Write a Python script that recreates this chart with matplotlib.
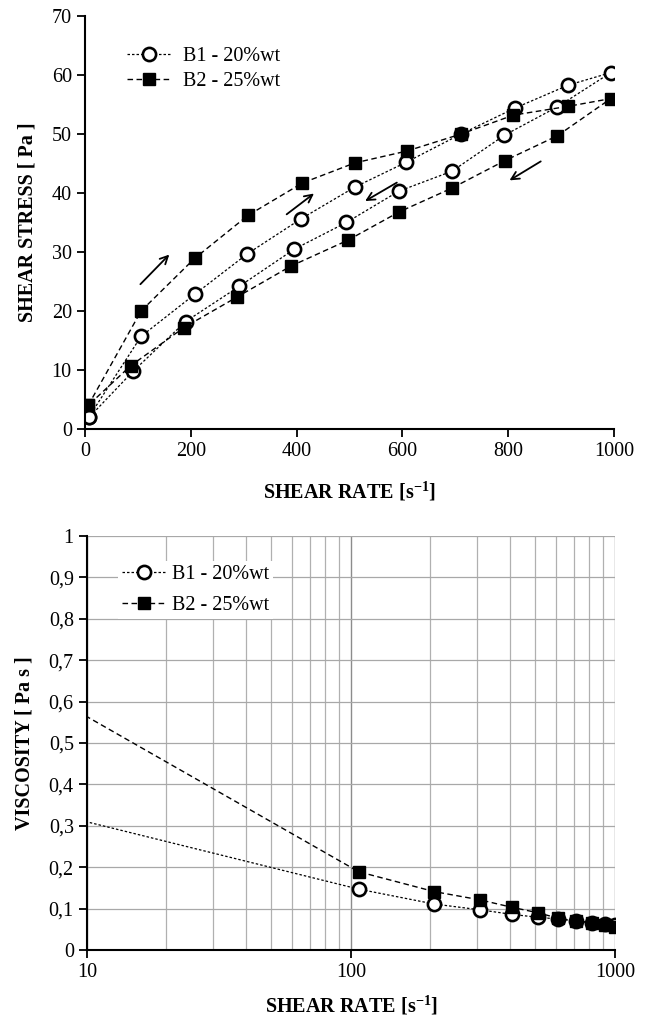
import numpy as np
import matplotlib
matplotlib.use("Agg")
import matplotlib.pyplot as plt
from matplotlib.ticker import FixedLocator, FuncFormatter, NullFormatter

plt.rcParams["font.family"] = ["Liberation Serif", "DejaVu Serif"]
plt.rcParams["mathtext.fontset"] = "custom"
plt.rcParams["mathtext.rm"] = "Liberation Serif"
plt.rcParams["mathtext.bf"] = "Liberation Serif:bold"

# Flow curves (shear rate up then down)
rate_b1 = [7, 106, 207, 307, 408, 510, 607, 711, 813, 914, 994,
           893, 793, 694, 593, 494, 396, 292, 190, 91, 8]
stress_b1 = [2.0, 15.7, 22.8, 29.7, 35.6, 41.0, 45.2, 50.0, 54.4, 58.3, 60.4,
             54.6, 49.8, 43.7, 40.3, 35.0, 30.5, 24.2, 18.2, 9.8, 2.0]
rate_b2 = [6, 106, 207, 308, 411, 510, 608, 711, 810, 914, 994,
           893, 794, 693, 594, 497, 389, 288, 187, 86, 6]
stress_b2 = [4.0, 20.0, 28.9, 36.2, 41.7, 45.1, 47.1, 50.0, 53.2, 54.7, 56.0,
             49.7, 45.5, 40.8, 36.8, 32.0, 27.6, 22.4, 17.2, 10.7, 4.0]

# Viscosity curves
visc_rate = [7, 107, 207, 309, 408, 511, 607, 711, 816, 916, 1000]
visc_b1 = [0.334, 0.147, 0.111, 0.097, 0.086, 0.079, 0.075, 0.070, 0.066, 0.062, 0.060]
visc_b2 = [0.62, 0.189, 0.141, 0.121, 0.103, 0.090, 0.077, 0.070, 0.066, 0.060, 0.056]

labels = ["B1 - 20%wt", "B2 - 25%wt"]

fig = plt.figure(figsize=(6.5, 10.19), dpi=100)
ax1 = fig.add_axes([0.1308, 0.579, 0.8138, 0.4053])
ax2 = fig.add_axes([0.1338, 0.0677, 0.8123, 0.4063])

fs = 14.5
st1 = dict(color="black", lw=0.9, ls=(0, (2, 1.6)), marker="o", ms=9.5,
           mfc="white", mec="black", mew=1.9)
st2 = dict(color="black", lw=1.0, ls=(0, (4, 2.5)), marker="s", ms=8.5,
           mfc="black", mec="black")

# ---- top: shear stress ----
ax1.plot(rate_b1, stress_b1, label=labels[0], **st1)
ax1.plot(rate_b2, stress_b2, label=labels[1], **st2)
ax1.set_xlim(0, 1000)
ax1.set_ylim(0, 70)
ax1.set_xticks(range(0, 1001, 200))
ax1.set_yticks(range(0, 71, 10))
for s in ["top", "right"]:
    ax1.spines[s].set_visible(False)
for s in ["left", "bottom"]:
    ax1.spines[s].set_linewidth(1.5)
ax1.tick_params(direction="out", length=6, width=1.3, labelsize=fs)
ax1.set_xlabel(r"SHEAR RATE [s$^{\mathbf{-1}}$]", fontsize=fs, fontweight="bold", labelpad=13)
ax1.set_ylabel("SHEAR STRESS [ Pa ]", fontsize=fs, fontweight="bold", labelpad=10)
ax1.legend(loc="upper left", bbox_to_anchor=(0.045, 0.97), frameon=False,
           fontsize=fs, handlelength=2.2, handletextpad=0.6, labelspacing=0.3)

arrows = [((101, 24.2), (163, 29.9)), ((377, 36.1), (437, 40.2)),
          ((594, 42.0), (525, 38.4)), ((866, 45.6), (798, 41.9))]
for (x0, y0), (x1, y1) in arrows:
    ax1.annotate("", xy=(x1, y1), xytext=(x0, y0),
                 arrowprops=dict(arrowstyle="->", color="black", lw=1.3,
                                 mutation_scale=14))

# ---- bottom: viscosity ----
ax2.set_xscale("log")
ax2.plot(visc_rate, visc_b1, label=labels[0], **st1)
ax2.plot(visc_rate, visc_b2, label=labels[1], **st2)
ax2.set_xlim(10, 1000)
ax2.set_ylim(0, 1)
ax2.set_yticks(np.arange(0, 1.01, 0.1))
ax2.yaxis.set_major_formatter(FuncFormatter(
    lambda v, p: "0" if abs(v) < 1e-9 else ("1" if abs(v - 1) < 1e-9 else f"{v:.1f}".replace(".", ","))))
ax2.xaxis.set_major_locator(FixedLocator([10, 100, 1000]))
ax2.xaxis.set_major_formatter(FuncFormatter(lambda v, p: f"{int(v)}"))
ax2.xaxis.set_minor_formatter(NullFormatter())
ax2.grid(True, which="major", color="#8c8c8c", lw=1.0)
ax2.grid(True, which="minor", axis="x", color="#b0b0b0", lw=0.9)
ax2.grid(True, which="major", axis="y", color="#a8a8a8", lw=0.9)
ax2.tick_params(axis="x", which="minor", length=0)
for s in ["top", "right"]:
    ax2.spines[s].set_visible(False)
for s in ["left", "bottom"]:
    ax2.spines[s].set_linewidth(1.5)
ax2.tick_params(which="major", direction="out", length=6, width=1.3, labelsize=fs)
ax2.set_axisbelow(True)
ax2.set_xlabel(r"SHEAR RATE [s$^{\mathbf{-1}}$]", fontsize=fs, fontweight="bold", labelpad=8)
ax2.set_ylabel("VISCOSITY [ Pa s ]", fontsize=fs, fontweight="bold", labelpad=10)
leg = ax2.legend(loc="upper left", bbox_to_anchor=(0.04, 0.965), frameon=True,
                 fontsize=fs, handlelength=2.2, handletextpad=0.25, labelspacing=0.6,
                 borderpad=0.2, fancybox=False)
leg.get_frame().set_facecolor("white")
leg.get_frame().set_edgecolor("none")
leg.get_frame().set_alpha(1)

fig.savefig("out.png", dpi=100)
